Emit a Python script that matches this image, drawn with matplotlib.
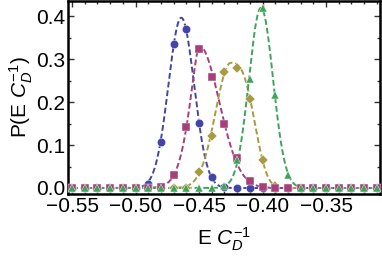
import matplotlib
matplotlib.use("Agg")
import matplotlib.pyplot as plt
import numpy as np
from matplotlib.ticker import MultipleLocator, FormatStrFormatter

plt.rcParams["font.family"] = ["Liberation Sans", "DejaVu Sans"]
plt.rcParams["mathtext.fontset"] = "custom"
plt.rcParams["mathtext.rm"] = "Liberation Sans"
plt.rcParams["mathtext.it"] = "Liberation Sans:italic"

# sample grid (E C_D^-1)
E_GRID = [-0.55, -0.54, -0.53, -0.52, -0.51, -0.50, -0.49, -0.48, -0.47, -0.46,
          -0.45, -0.44, -0.43, -0.42, -0.41, -0.40, -0.39, -0.38, -0.37, -0.36,
          -0.35, -0.34, -0.33, -0.32, -0.31]

# sampled probabilities (markers)
P_BLUE = [0, 0, 0, 0, 0, 0, 0.009, 0.107, 0.336, 0.371, 0.151, 0.025, 0.002,
          0, 0, 0, 0, 0, 0, 0, 0, 0, 0, 0, 0]
P_MAGENTA = [0, 0, 0, 0, 0, 0, 0, 0.002, 0.031, 0.142, 0.325, 0.259, 0.149,
             0.069, 0.017, 0.002, 0, 0, 0, 0, 0, 0, 0, 0, 0]
P_YELLOW = [0, 0, 0, 0, 0, 0, 0, 0, 0, 0.001, 0.038, 0.122, 0.270, 0.280,
            0.208, 0.065, 0.004, 0, 0, 0, 0, 0, 0, 0, 0]
P_GREEN = [0, 0, 0, 0, 0, 0, 0, 0, 0, 0, 0, 0, 0.004, 0.065, 0.254, 0.419,
           0.216, 0.031, 0.001, 0, 0, 0, 0, 0, 0]

# fitted peak shapes: centre, height, left width, right width, left exp, right exp
FIT_CENTRE = [-0.464, -0.450, -0.425, -0.4012]
FIT_HEIGHT = [0.397, 0.332, 0.292, 0.420]
FIT_WIDTH_L = [0.0143, 0.0111, 0.0170, 0.0134]
FIT_WIDTH_R = [0.0143, 0.0225, 0.0218, 0.0134]
FIT_EXP_L = [2.0, 1.5, 2.0, 2.0]
FIT_EXP_R = [2.0, 2.0, 3.0, 2.0]

COLORS = ["#4444a6", "#a63f7a", "#a69a42", "#40a35c"]
MARKERS = ["o", "s", "D", "^"]
MSIZES = [6.0, 5.2, 4.8, 5.6]
MARKER_Z = [4, 5, 3, 6]


def peak_shape(x, i):
    d = x - FIT_CENTRE[i]
    w = np.where(d < 0, FIT_WIDTH_L[i], FIT_WIDTH_R[i])
    p = np.where(d < 0, FIT_EXP_L[i], FIT_EXP_R[i])
    return FIT_HEIGHT[i] * np.exp(-np.abs(d / w) ** p)


fig = plt.figure(figsize=(3.82, 2.56), dpi=100)
ax = fig.add_axes([68 / 382, 1 - 194 / 256, 312 / 382, 193 / 256])

x_fine = np.linspace(E_GRID[0], E_GRID[-1], 600)
series = [P_BLUE, P_MAGENTA, P_YELLOW, P_GREEN]
for i in range(4):
    ax.plot(x_fine, peak_shape(x_fine, i), color=COLORS[i], lw=1.4,
            ls=(0, (3.0, 1.5)), zorder=2)
for i, vals in enumerate(series):
    ax.plot(E_GRID, vals, ls="none", marker=MARKERS[i], ms=MSIZES[i],
            color=COLORS[i], mec="white", mew=0.3, zorder=MARKER_Z[i])

ax.set_xlim(-0.5532, -0.3075)
ax.set_ylim(-0.014, 0.436)
ax.xaxis.set_major_locator(MultipleLocator(0.05))
ax.xaxis.set_minor_locator(MultipleLocator(0.01))
ax.yaxis.set_major_locator(MultipleLocator(0.1))
ax.yaxis.set_minor_locator(MultipleLocator(0.05))
ax.yaxis.set_major_formatter(FormatStrFormatter("%.1f"))
ax.xaxis.set_major_formatter(plt.FuncFormatter(lambda v, p: f"{v:.2f}".replace("-", "\u2212")))

ax.tick_params(which="both", direction="in", top=True, right=True,
               labelsize=15, width=1.0, color="#333333")
ax.tick_params(which="major", length=4, pad=2)
ax.tick_params(which="minor", length=2)
for s in ax.spines.values():
    s.set_linewidth(1.8)

ax.set_xlabel(r"E $C_D^{-1}$", fontsize=15, labelpad=7)
ax.set_ylabel(r"P(E $C_D^{-1}$)", fontsize=15, labelpad=1)

fig.savefig("out.png", dpi=100)
